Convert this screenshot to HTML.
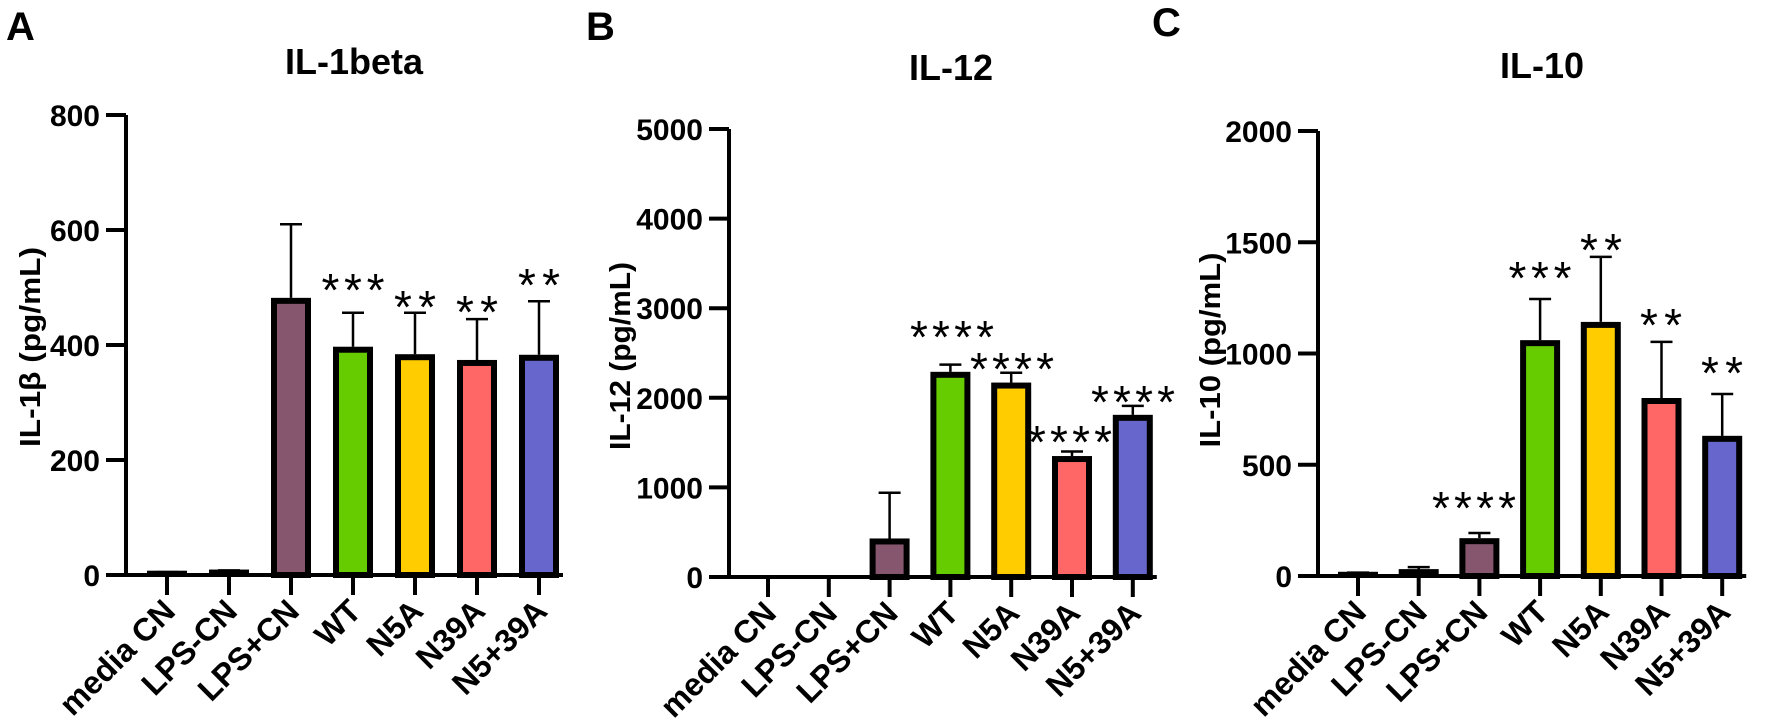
<!DOCTYPE html>
<html><head><meta charset="utf-8"><style>
html,body{margin:0;padding:0;background:#fff;width:1772px;height:728px;overflow:hidden}
svg{display:block;font-family:"Liberation Sans",sans-serif}
</style></head><body>
<svg id="fig" width="1772" height="728" viewBox="0 0 1772 728">
<text x="6" y="40" font-size="40" font-weight="bold">A</text>
<text x="586" y="40" font-size="40" font-weight="bold">B</text>
<text x="1152" y="36" font-size="40" font-weight="bold">C</text>
</svg>
<script>
const categories = ["media CN","LPS-CN","LPS+CN","WT","N5A","N39A","N5+39A"];
const colors = ["#86566F","#86566F","#86566F","#66CC00","#FFCC00","#FF6666","#6666CC"];
const il1bValues = [4, 6, 482, 397, 384, 374, 383];
const il1bErrors = [5, 8, 610, 456, 456, 445, 476];
const il1bStars = ["", "", "", "***", "**", "**", "**"];
const il1bTicks = [0, 200, 400, 600, 800];
const il12Values = [0, 0, 430, 2290, 2170, 1350, 1810];
const il12Errors = [0, 0, 940, 2370, 2280, 1400, 1910];
const il12Stars = ["", "", "", "****", "****", "****", "****"];
const il12Ticks = [0, 1000, 2000, 3000, 4000, 5000];
const il10Values = [10, 22, 170, 1060, 1142, 800, 630];
const il10Errors = [15, 40, 193, 1245, 1434, 1052, 818];
const il10Stars = ["", "", "****", "***", "**", "**", "**"];
const il10Ticks = [0, 500, 1000, 1500, 2000];

const NS = "http://www.w3.org/2000/svg";
const svg = document.getElementById("fig");
function mk(tag, attrs, parent){const e=document.createElementNS(NS,tag);for(const k in attrs)e.setAttribute(k,attrs[k]);(parent||svg).appendChild(e);return e;}

function panel(cfg){
  const g = mk("g",{});
  
  
  const yMax = cfg.ticks[cfg.ticks.length-1];
  const yS = v => cfg.y0 - (v / yMax) * (cfg.y0 - cfg.yTop);
  const xS = i => cfg.x0 + i * cfg.step;
  const t = mk("text",{x:cfg.titleX,y:cfg.titleY,"font-size":36,"font-weight":"bold","text-anchor":"middle"},g);
  t.textContent = cfg.title;
  
  
  const yt = mk("text",{x:0,y:0,"font-size":29,"font-weight":"bold","text-anchor":"middle",transform:`translate(${cfg.yTitleX},${cfg.yTitleY}) rotate(-90)`,textLength:cfg.yTitleLen,lengthAdjust:"spacingAndGlyphs"},g);
  yt.textContent = cfg.yTitle;
  
  
  cfg.values.forEach((v,i)=>{
    const cx = xS(i), yv = yS(v), ye = yS(cfg.errors[i]);
    if (cfg.errors[i] > v) {
      const eb = mk("path",{d:`M${cx},${yv} V${ye} M${cx-11},${ye} H${cx+11}`,stroke:"#000","stroke-width":2.5,fill:"none"},g);
      
      
    }
    let r;
    if (cfg.y0 - yv < 8) {
      r = mk("rect",{x:cx-20,y:yv-2,width:40,height:cfg.y0-yv+2,fill:"#000"},g);
    } else {
      r = mk("rect",{x:cx-17,y:yv+3,width:34,height:cfg.y0-yv-3,fill:colors[i],stroke:"#000","stroke-width":6},g);
    }
    
    
    if (cfg.stars[i]) {
      const sy = cfg.starY[i];
      const s = mk("text",{x:cfg.starX ? cfg.starX[i] : cx,y:sy+26,"font-size":46,"text-anchor":"middle",textLength:cfg.stars[i].length*21,lengthAdjust:"spacing"},g);
      s.textContent = cfg.stars[i];
      
      
    }
    mk("line",{x1:cx,x2:cx,y1:cfg.y0,y2:cfg.y0+20,stroke:"#000","stroke-width":4},g);
    const lab = mk("text",{x:0,y:0,"font-size":32,"font-weight":"bold","text-anchor":"end",transform:`translate(${cx+10},${cfg.y0+38}) rotate(-45)`},g);
    lab.textContent = categories[i];
    
    
  });
  const ax = mk("path",{d:`M${cfg.axisX},${cfg.yTop} V${cfg.y0} H${xS(categories.length-1)+24}`,stroke:"#000","stroke-width":4,fill:"none"},g);
  
  
  cfg.ticks.forEach(tv=>{
    const y = yS(tv);
    mk("line",{x1:cfg.axisX-20,x2:cfg.axisX,y1:y,y2:y,stroke:"#000","stroke-width":4},g);
    const tl = mk("text",{x:cfg.axisX-26,y:y+11,"font-size":30,"font-weight":"bold","text-anchor":"end"},g);
    tl.textContent = tv;
    
    
  });
}

panel({name:"panel-il1beta",title:"IL-1beta",titleX:354,titleY:74,yTitle:"IL-1β (pg/mL)",yTitleX:40,yTitleY:347,yTitleLen:200,
  axisX:126,y0:575,yTop:115,x0:167,step:62,ticks:il1bTicks,values:il1bValues,errors:il1bErrors,stars:il1bStars,
  starY:[0,0,0,280,297,302,275]});
panel({name:"panel-il12",title:"IL-12",titleX:951,titleY:80,yTitle:"IL-12 (pg/mL)",yTitleX:630,yTitleY:356,yTitleLen:188,
  axisX:729,y0:577,yTop:129,x0:768,step:60.8,ticks:il12Ticks,values:il12Values,errors:il12Errors,stars:il12Stars,
  starY:[0,0,0,327,359,432,392],starX:[0,0,0,952,1012,1070,1133]});
panel({name:"panel-il10",title:"IL-10",titleX:1542,titleY:78,yTitle:"IL-10 (pg/mL)",yTitleX:1220,yTitleY:350,yTitleLen:195,
  axisX:1318,y0:576,yTop:131,x0:1358,step:60.7,ticks:il10Ticks,values:il10Values,errors:il10Errors,stars:il10Stars,
  starY:[0,0,498,268,240,315,363],starX:[0,0,1474,1540,1601,1661,1722]});
</script>
</body></html>
